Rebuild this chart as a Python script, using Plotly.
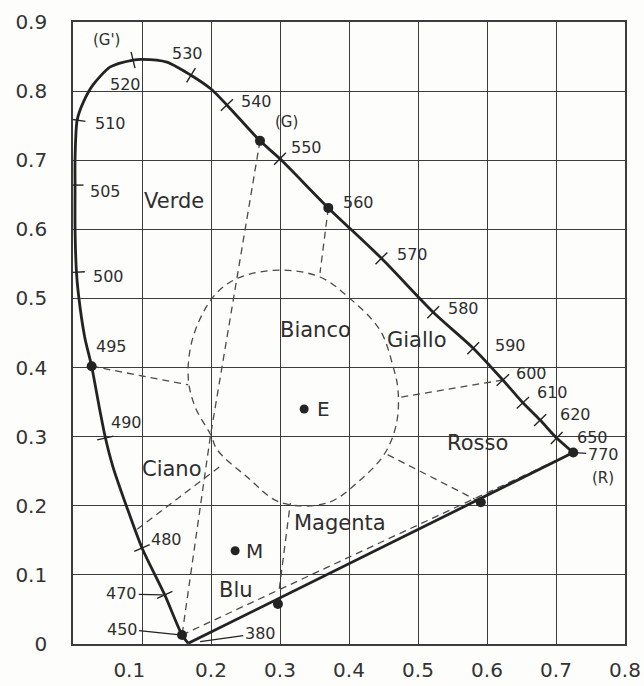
import numpy as np
import plotly.graph_objects as go

# ---------------- data (CIE 1931 x, y) ----------------
locus_x = [0.167, 0.158, 0.133, 0.100, 0.078, 0.058, 0.047, 0.038, 0.027, 0.017,
           0.008, 0.005, 0.003, 0.003, 0.003, 0.006, 0.015, 0.029, 0.054, 0.087,
           0.100, 0.136, 0.171, 0.200, 0.223, 0.271, 0.300, 0.370, 0.447, 0.522,
           0.580, 0.623, 0.652, 0.677, 0.701, 0.725]
locus_y = [0.001, 0.013, 0.071, 0.139, 0.198, 0.256, 0.298, 0.343, 0.402, 0.444,
           0.505, 0.538, 0.600, 0.664, 0.703, 0.758, 0.784, 0.809, 0.835, 0.845,
           0.846, 0.842, 0.823, 0.803, 0.780, 0.728, 0.702, 0.631, 0.558, 0.480,
           0.428, 0.382, 0.349, 0.324, 0.298, 0.277]
locus_nm = [380, 450, 470, 480, None, None, 490, None, 495, None,
            None, 500, None, 505, None, 510, None, None, None, 520,
            None, None, 530, None, 540, None, 550, 560, 570, 580,
            590, 600, 610, 620, 650, 770]

tick_nm = [470, 480, 490, 500, 505, 510, 520, 530, 540, 550,
           570, 580, 590, 600, 610, 620, 650]
label_nm = [380, 450, 470, 480, 490, 495, 500, 505, 510, 520, 530,
            540, 550, 560, 570, 580, 590, 600, 610, 620, 650, 770]

dot_x = [0.158, 0.027, 0.271, 0.370, 0.725, 0.297, 0.591]
dot_y = [0.013, 0.402, 0.728, 0.631, 0.277, 0.058, 0.205]

point_names = ["E", "M"]
point_x = [0.335, 0.235]
point_y = [0.340, 0.135]

white_x = [0.300, 0.358, 0.399, 0.445, 0.464, 0.471, 0.469, 0.452, 0.416, 0.368,
           0.300, 0.252, 0.209, 0.200, 0.177, 0.167, 0.174, 0.203, 0.238, 0.300]
white_y = [0.541, 0.531, 0.502, 0.454, 0.401, 0.368, 0.320, 0.276, 0.237, 0.204,
           0.205, 0.242, 0.281, 0.302, 0.343, 0.386, 0.444, 0.502, 0.529, 0.541]

verde_ciano_x = [0.271, 0.199, 0.158]
verde_ciano_y = [0.728, 0.300, 0.013]
line560_x = [0.370, 0.358]
line560_y = [0.631, 0.537]
line495_x = [0.027, 0.167]
line495_y = [0.402, 0.375]
line600_x = [0.623, 0.474]
line600_y = [0.382, 0.357]
rosso_x = [0.456, 0.591]
rosso_y = [0.274, 0.205]
blue_red_x = [0.158, 0.725]
blue_red_y = [0.013, 0.277]
magenta_x = [0.299, 0.315]
magenta_y = [0.080, 0.204]
ciano_x = [0.093, 0.216]
ciano_y = [0.166, 0.259]

region_names = ["Verde", "Bianco", "Giallo", "Rosso", "Ciano", "Magenta", "Blu"]
region_x = [0.146, 0.351, 0.499, 0.586, 0.143, 0.387, 0.236]
region_y = [0.641, 0.454, 0.440, 0.291, 0.253, 0.175, 0.078]

primary_names = ["(G')", "(G)", "(R)", "(B)"]
primary_x = [0.049, 0.310, 0.768, 0.141]
primary_y = [0.874, 0.755, 0.240, -0.023]

x_ticks = [0.1, 0.2, 0.3, 0.4, 0.5, 0.6, 0.7, 0.8]
x_tick_text = ["0.1", "0.2", "0.3", "0.4", "0.5", "0.6", "0.7", "0.8"]
y_ticks = [0, 0.1, 0.2, 0.3, 0.4, 0.5, 0.6, 0.7, 0.8, 0.9]
y_tick_text = ["0", "0.1", "0.2", "0.3", "0.4", "0.5", "0.6", "0.7", "0.8", "0.9"]

# ---------------- styles ----------------
INK = "#232323"
TXT = "#2e2e2e"
DASH_C = "#4a4a4a"
GRID_C = "#3c3c3c"
FONT = "DejaVu Sans"
# label offsets in pixels (dx right, dy down) for the wavelength labels
label_dx = [72, -60, -43, 24, 21, 20, 32, 30, 33, -8, -3, 30, 26, 30, 31, 30, 37, 29, 30, 35, 36, 30]
label_dy = [-10, -6, -1, -8, -16, -20, 4, 6, 3, 24, -22, -3, -11, -5, -4, -4, -3, -7, -10, -6, -1, 2]
leader_nm = [380, 450, 470, 770]

fig = go.Figure()

dash_style = dict(color=DASH_C, width=1.3, dash="7px,5px")
for xs, ys in [(verde_ciano_x, verde_ciano_y), (line560_x, line560_y),
               (line495_x, line495_y), (line600_x, line600_y),
               (rosso_x, rosso_y), (blue_red_x, blue_red_y),
               (magenta_x, magenta_y), (ciano_x, ciano_y)]:
    fig.add_trace(go.Scatter(x=xs, y=ys, mode="lines", line=dash_style,
                             hoverinfo="skip", showlegend=False))

fig.add_trace(go.Scatter(x=white_x, y=white_y, mode="lines",
                         line=dict(color=DASH_C, width=1.3, dash="7px,5px",
                                   shape="spline", smoothing=1.0),
                         hoverinfo="skip", showlegend=False))

# spectral locus
fig.add_trace(go.Scatter(x=locus_x, y=locus_y, mode="lines",
                         line=dict(color=INK, width=2.8, shape="spline", smoothing=0.7),
                         hoverinfo="skip", showlegend=False))
# purple line (closing line between the two ends of the locus)
fig.add_trace(go.Scatter(x=[locus_x[-1], locus_x[0]], y=[locus_y[-1], locus_y[0]],
                         mode="lines", line=dict(color=INK, width=2.8),
                         hoverinfo="skip", showlegend=False))

# wavelength tick marks, perpendicular to the locus
gx = np.gradient(np.array(locus_x))
gy = np.gradient(np.array(locus_y))
tick_idx = [locus_nm.index(n) for n in tick_nm]
tx = [locus_x[i] for i in tick_idx]
ty = [locus_y[i] for i in tick_idx]
tang = [float(np.degrees(np.arctan2(-gy[i], gx[i]))) + 90 for i in tick_idx]
fig.add_trace(go.Scatter(x=tx, y=ty, mode="markers",
                         marker=dict(symbol="line-ew", size=12, angle=tang,
                                     line=dict(color=INK, width=1.4)),
                         hoverinfo="skip", showlegend=False))

# dots
fig.add_trace(go.Scatter(x=dot_x, y=dot_y, mode="markers",
                         marker=dict(size=10, color=INK),
                         hoverinfo="skip", showlegend=False))
fig.add_trace(go.Scatter(x=point_x, y=point_y, mode="markers",
                         marker=dict(size=9, color=INK),
                         hoverinfo="skip", showlegend=False))

annotations = []
for n, dx, dy in zip(label_nm, label_dx, label_dy):
    i = locus_nm.index(n)
    if n in leader_nm:
        annotations.append(dict(x=locus_x[i], y=locus_y[i], text=str(n),
                                showarrow=True, arrowhead=0, arrowwidth=1.3,
                                arrowcolor=INK, ax=dx, ay=dy,
                                standoff=12 if n == 380 else 2,
                                font=dict(family=FONT, size=16, color=TXT)))
    else:
        annotations.append(dict(x=locus_x[i], y=locus_y[i], text=str(n),
                                showarrow=False, xshift=dx, yshift=-dy,
                                font=dict(family=FONT, size=16, color=TXT)))

for name, x, y in zip(region_names, region_x, region_y):
    annotations.append(dict(x=x, y=y, text=name, showarrow=False,
                            font=dict(family=FONT, size=21, color=TXT)))
for name, x, y in zip(point_names, point_x, point_y):
    annotations.append(dict(x=x, y=y, text=name, showarrow=False, xshift=19,
                            font=dict(family=FONT, size=20, color=TXT)))
for name, x, y in zip(primary_names, primary_x, primary_y):
    annotations.append(dict(x=x, y=y, text=name, showarrow=False,
                            font=dict(family=FONT, size=15, color=TXT)))

x_tick_text_disp = [t + "\u00a0" * 4 if t == "0.1" else t for t in x_tick_text]

axis_common = dict(showgrid=True, gridcolor=GRID_C, gridwidth=1.3,
                   showline=True, mirror=True, linecolor=GRID_C, linewidth=1.6,
                   zeroline=False, ticks="", automargin=False,
                   tickfont=dict(family=FONT, size=20, color="#333"))

fig.update_layout(
    width=644, height=686,
    margin=dict(l=73, r=19, t=22, b=42),
    paper_bgcolor="#fdfdfb", plot_bgcolor="#fdfdfb",
    showlegend=False,
    annotations=annotations,
    xaxis=dict(range=[0, 0.8], tickmode="array", tickvals=x_ticks,
               ticktext=x_tick_text_disp, ticklabelstandoff=7, **axis_common),
    yaxis=dict(range=[0, 0.9], tickmode="array", tickvals=y_ticks,
               ticktext=y_tick_text, ticklabelstandoff=20, **axis_common),
)

fig.write_html("out.html", config={"displayModeBar": False},
               post_script="document.body.style.margin='0';document.body.style.overflow='hidden';")
